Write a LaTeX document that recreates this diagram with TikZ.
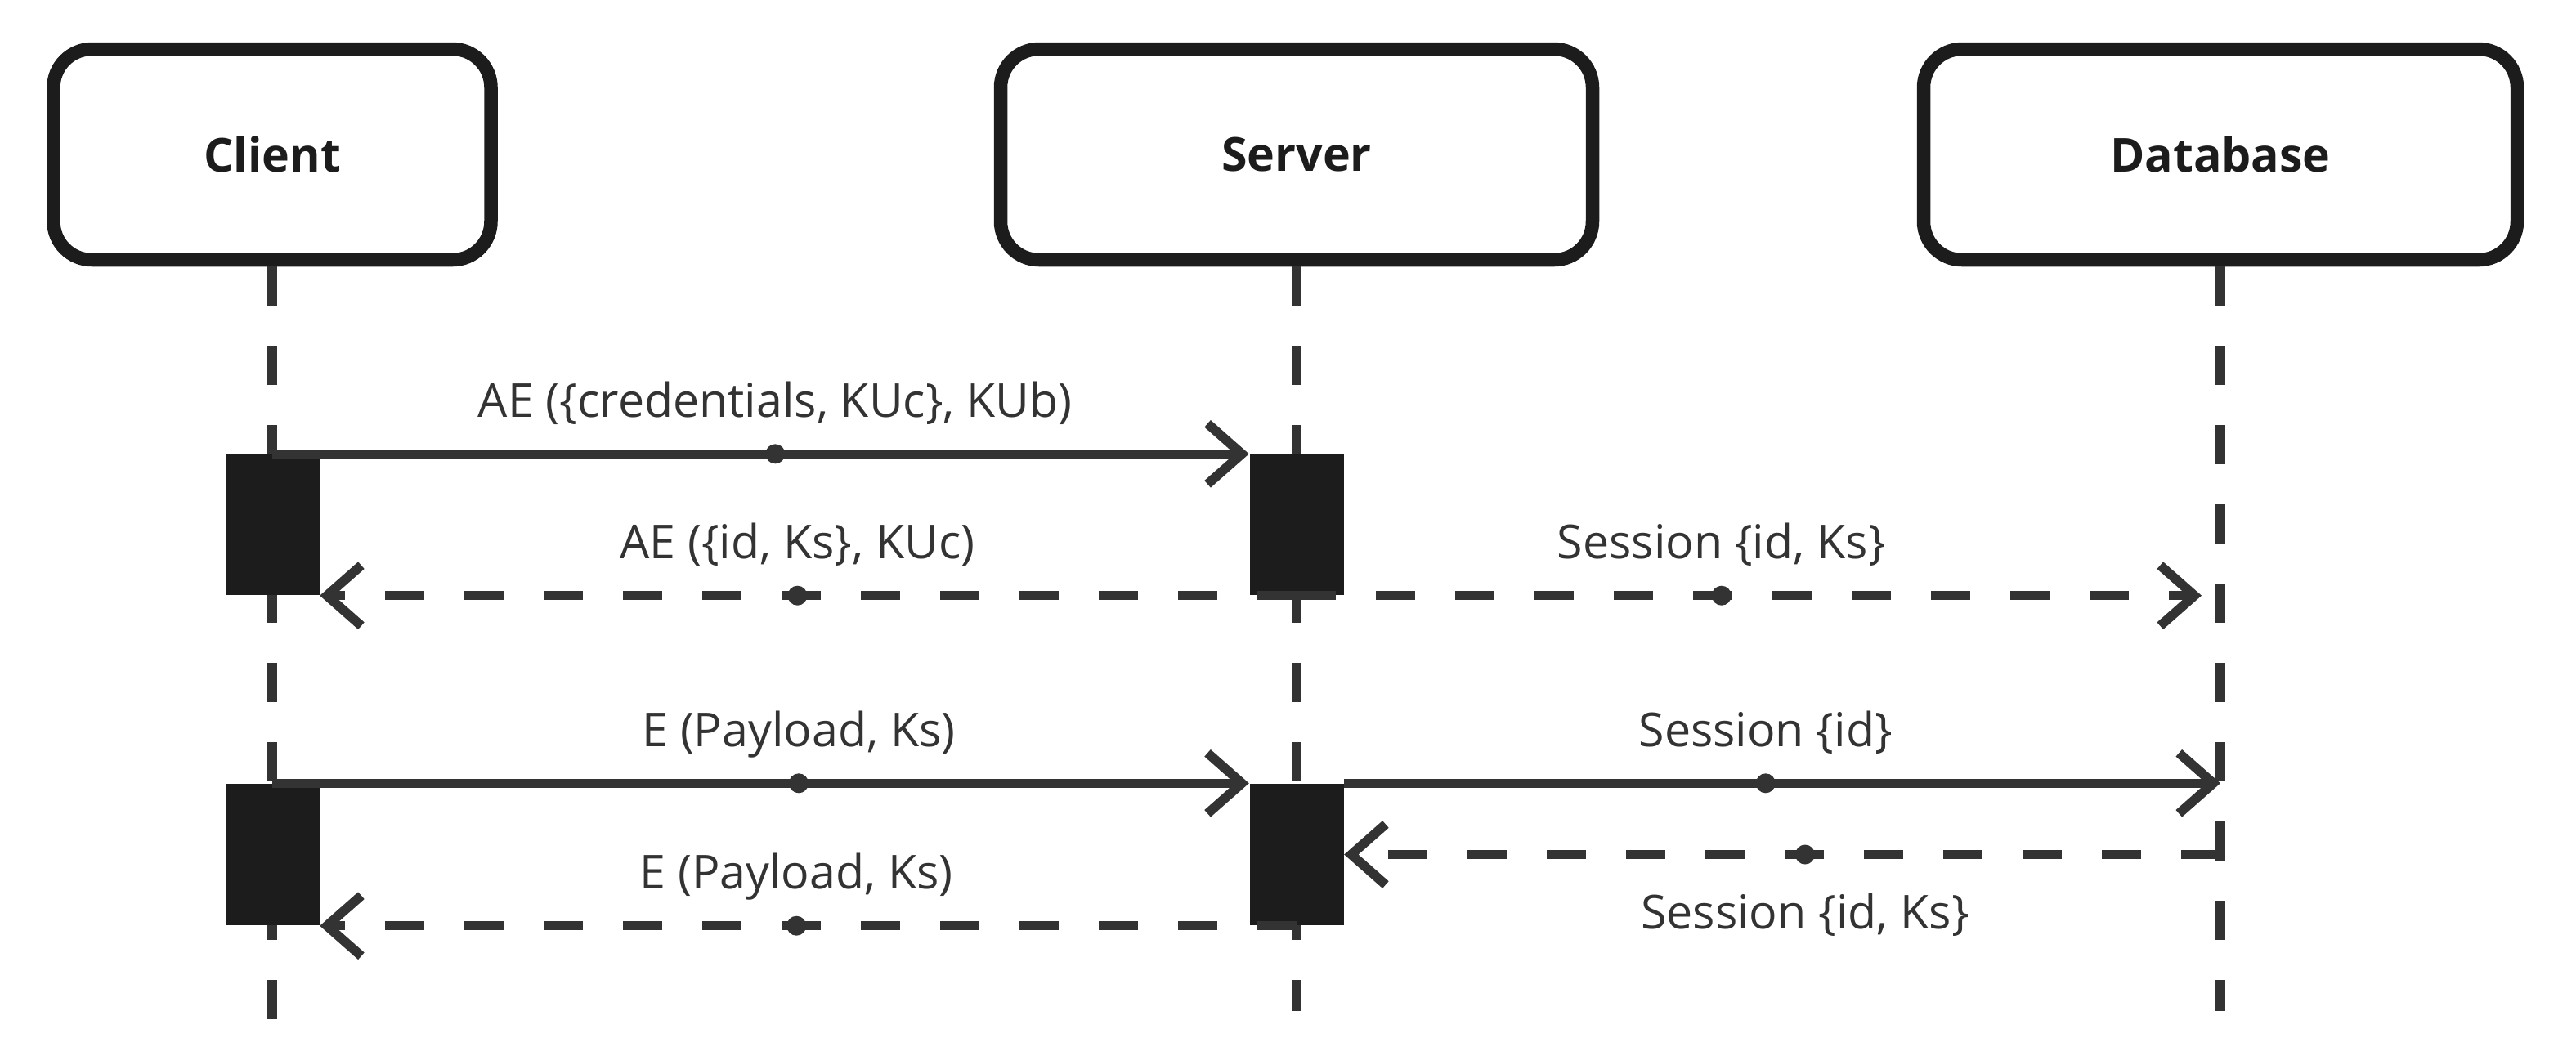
\documentclass[tikz,border=0pt]{standalone}
\usepackage{fontspec}
\setmainfont{Open Sans}
\usetikzlibrary{arrows.meta}
\definecolor{ink}{HTML}{1C1C1C}
\definecolor{wire}{HTML}{333333}

\begin{document}
\begin{tikzpicture}[font=\fontsize{16.3pt}{20pt}\selectfont,
	participant/.style={draw=ink,fill=white,line width=1.65mm,rounded corners=4.7mm,
	  minimum height=25.8mm,text=ink,font=\fontsize{16.3pt}{20pt}\selectfont\bfseries},
	activation/.style={fill=ink,inner sep=0pt,minimum width=11.5mm},
	lifeline/.style={wire,line width=1.2mm,dash pattern=on 4.8mm off 4.9mm},
	call/.style={wire,line width=1.15mm,-{Straight Barb[length=4.2mm,width=7.4mm]}},
	reply/.style={call,dash pattern=on 4.8mm off 4.9mm},
	msgdot/.style={circle,fill=wire,inner sep=0pt,minimum size=2.4mm},
	msgtop/.style={anchor=base,yshift=4.5mm,text=wire},
	msgbottom/.style={anchor=base,yshift=-9.1mm,text=wire}]
	\useasboundingbox (0,0) rectangle (31.51,-12.69);

	%participants
	\node[participant,minimum width=53.5mm] (client) at (3.33,-1.89) {Client};
	\node[participant,minimum width=72.4mm] (server) at (15.86,-1.89) {Server};
	\node[participant,minimum width=72.6mm] (database) at (27.16,-1.89) {Database};

	%lifelines
	\coordinate (clientend) at (3.33,-12.5);
	\coordinate (serverend) at (15.86,-12.37);
	\coordinate (databaseend) at (27.16,-12.37);
	\draw[lifeline] (client.south) -- (clientend);
	\draw[lifeline] (server.south) -- (serverend);
	\draw[lifeline] (database.south) -- (databaseend);

	%activations
	\node[activation,minimum height=17.2mm] (act1c) at (client |- 0,-6.42) {}; %login, client
	\node[activation,minimum height=17.2mm] (act1s) at (server |- 0,-6.42) {}; %login, server
	\node[activation,minimum height=17.3mm] (act2c) at (client |- 0,-10.455) {}; %payload, client
	\node[activation,minimum height=17.3mm] (act2s) at (server |- 0,-10.455) {}; %payload, server

	%points on the database lifeline
	\coordinate (db1) at (database |- act1s.south);
	\coordinate (db2) at (database |- act2s.north);
	\coordinate (db3) at (database |- act2s.east);

	%login
	\draw[call] (act1c.north) -- (act1s.north west)
	  node[msgdot,pos=.515] {} node[msgtop,pos=.515] {AE (\{credentials, KUc\}, KUb)};
	\draw[reply] (act1s.south) -- (act1c.south east)
	  node[msgdot,pos=.511] {} node[msgtop,pos=.511] {AE (\{id, Ks\}, KUc)};
	\draw[reply,shorten >=2.3mm] (act1s.south) -- (db1)
	  node[msgdot,pos=.46] {} node[msgtop,pos=.46] {Session \{id, Ks\}}; %store session

	%payload
	\draw[call] (act2c.north) -- (act2s.north west)
	  node[msgdot,pos=.539] {} node[msgtop,pos=.539] {E (Payload, Ks)};
	\draw[call] (act2s.north east) -- (db2)
	  node[msgdot,pos=.481] {} node[msgtop,pos=.481] {Session \{id\}}; %look up session
	\draw[reply] (db3) -- (act2s.east)
	  node[msgdot,pos=.474] {} node[msgbottom,pos=.474] {Session \{id, Ks\}};
	\draw[reply] (act2s.south) -- (act2c.south east)
	  node[msgdot,pos=.512] {} node[msgtop,pos=.512] {E (Payload, Ks)};
\end{tikzpicture}
\end{document}
